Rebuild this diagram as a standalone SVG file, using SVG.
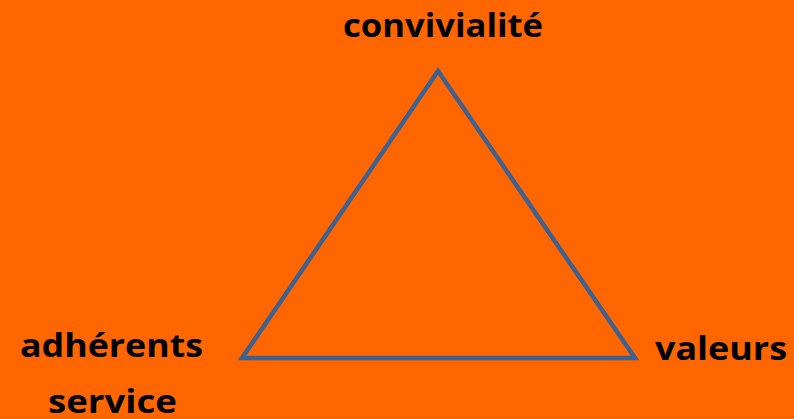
<svg xmlns="http://www.w3.org/2000/svg" width="794" height="419" viewBox="0 0 794 419">
<style>
.lbl{font-family:"Open Sans","Liberation Sans",sans-serif;font-weight:bold;font-size:33px;fill:#000;text-anchor:middle}
.tri{fill:none;stroke:#3F6190;stroke-width:4.5;stroke-linejoin:miter}
</style>
<rect width="794" height="419" fill="#FF6600"/>
<g id="connectors">
<polygon class="tri" points="438,71 242,358 635,358"/>
</g>
<g id="node-convivialite"><text class="lbl" x="443" y="37" textLength="200" lengthAdjust="spacingAndGlyphs">convivialité</text></g>
<g id="node-adherents"><text class="lbl" x="111.5" y="357" textLength="183" lengthAdjust="spacingAndGlyphs">adhérents</text><text class="lbl" x="112.5" y="413" textLength="129" lengthAdjust="spacingAndGlyphs">service</text></g>
<g id="node-valeurs"><text class="lbl" x="721" y="360" textLength="132" lengthAdjust="spacingAndGlyphs">valeurs</text></g>
</svg>
